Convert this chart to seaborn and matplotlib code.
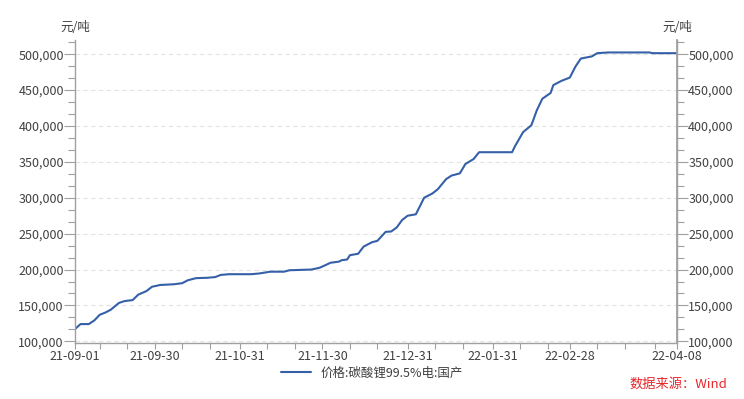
import pandas as pd
import matplotlib.pyplot as plt
import matplotlib.dates as mdates
import matplotlib.ticker as mticker
import seaborn as sns

# price series (元/吨)
dates = ["2021-09-01", "2021-09-03", "2021-09-06", "2021-09-08", "2021-09-10", "2021-09-12",
         "2021-09-14", "2021-09-17", "2021-09-19", "2021-09-22", "2021-09-24", "2021-09-27",
         "2021-09-29", "2021-10-02", "2021-10-07", "2021-10-10", "2021-10-12", "2021-10-15",
         "2021-10-19", "2021-10-22", "2021-10-24", "2021-10-27", "2021-11-04", "2021-11-07",
         "2021-11-11", "2021-11-16", "2021-11-18", "2021-11-26", "2021-11-29", "2021-12-03",
         "2021-12-06", "2021-12-07", "2021-12-09", "2021-12-10", "2021-12-13", "2021-12-15",
         "2021-12-18", "2021-12-20", "2021-12-23", "2021-12-25", "2021-12-27", "2021-12-29",
         "2021-12-31", "2022-01-03", "2022-01-06", "2022-01-09", "2022-01-11", "2022-01-14",
         "2022-01-16", "2022-01-18", "2022-01-19", "2022-01-21", "2022-01-24", "2022-01-26",
         "2022-02-07", "2022-02-08", "2022-02-11", "2022-02-14", "2022-02-16", "2022-02-18",
         "2022-02-21", "2022-02-22", "2022-02-25", "2022-02-28", "2022-03-02", "2022-03-04",
         "2022-03-08", "2022-03-10", "2022-03-14", "2022-03-29", "2022-03-30", "2022-04-08"]
prices = [117000, 124000, 124000, 129000, 137000, 140000,
          144000, 153500, 156000, 157500, 165000, 170000,
          176000, 178500, 179500, 181000, 185000, 188000,
          188500, 189500, 192500, 193500, 193500, 194500,
          197000, 197000, 199000, 200000, 202500, 209500,
          211000, 213000, 214000, 220000, 222000, 232000,
          238000, 240000, 252500, 253000, 258500, 269000,
          275000, 277000, 300000, 306000, 312000, 326000,
          331000, 333000, 334000, 347000, 354000, 363500,
          363500, 371500, 391500, 401000, 422000, 438000,
          446000, 457000, 463000, 467500, 482500, 494000,
          497000, 501500, 502500, 502500, 501500, 501500]

tick_dates = ["2021-09-01", "2021-09-30", "2021-10-31", "2021-11-30", "2021-12-31",
              "2022-01-31", "2022-02-28", "2022-04-08"]
tick_labels = ["21-09-01", "21-09-30", "21-10-31", "21-11-30", "21-12-31",
               "22-01-31", "22-02-28", "22-04-08"]
series_name = "价格:碳酸锂99.5%电:国产"

df = pd.DataFrame({"date": pd.to_datetime(dates), "price": prices})

sns.set_theme(style="white")
plt.rcParams['font.family'] = ['Noto Sans CJK SC', 'DejaVu Sans']

fig = plt.figure(figsize=(7.44, 3.99), dpi=100)
ax = fig.add_axes([0.1008, 0.141, 0.8092, 0.759])

line_color = "#3560a8"
sns.lineplot(data=df, x="date", y="price", ax=ax, color=line_color, linewidth=1.5,
             label=series_name, legend=False)

ymin, ymax = 98000, 520000
ax.set_xlim(pd.Timestamp("2021-09-01"), pd.Timestamp("2022-04-08"))
ax.set_ylim(ymin, ymax)
ax.set_xlabel("")
ax.set_ylabel("")

grey = "#a0a0a0"
txt = "#404040"

# x ticks
ax.xaxis.set_major_locator(mticker.FixedLocator(mdates.date2num(pd.to_datetime(tick_dates))))
ax.xaxis.set_major_formatter(mticker.FixedFormatter(tick_labels))
minor = pd.date_range("2021-09-01", "2022-04-08")
minor = [d for d in minor if d.day in (10, 20)] + [pd.Timestamp("2022-03-31")]
ax.xaxis.set_minor_locator(mticker.FixedLocator(mdates.date2num(pd.to_datetime(minor))))

# y ticks
yt = list(range(100000, 500001, 50000))
ax.yaxis.set_major_locator(mticker.FixedLocator(yt))
ax.yaxis.set_minor_locator(mticker.AutoMinorLocator(3))
ax.yaxis.set_major_formatter(mticker.FuncFormatter(lambda v, p: f"{int(v):,}"))

ax.grid(axis="y", which="major", color="#e3e3e3", linestyle=(0, (4, 3)), linewidth=0.8)
ax.grid(axis="x", visible=False)

for s in ["top"]:
    ax.spines[s].set_visible(False)
for s in ["left", "right", "bottom"]:
    ax.spines[s].set_color(grey)
    ax.spines[s].set_linewidth(1.0)

ax.tick_params(axis="x", which="both", direction="out", length=4, width=0.8, color=grey,
               labelsize=9, labelcolor=txt, pad=1, bottom=True)
ax.tick_params(axis="y", which="major", direction="out", length=8, width=0.8, color=grey,
               labelsize=9, labelcolor=txt, pad=0, left=True)
ax.tick_params(axis="y", which="minor", direction="out", length=5, width=0.8, color=grey, left=True)

# right axis mirrors the left
ax2 = ax.twinx()
ax2.set_ylim(ymin, ymax)
ax2.yaxis.set_major_locator(mticker.FixedLocator(yt))
ax2.yaxis.set_minor_locator(mticker.AutoMinorLocator(3))
ax2.yaxis.set_major_formatter(mticker.FuncFormatter(lambda v, p: f"{int(v):,}"))
ax2.grid(False)
for s in ["top", "left", "bottom"]:
    ax2.spines[s].set_visible(False)
ax2.spines["right"].set_color(grey)
ax2.tick_params(axis="y", which="major", direction="out", length=8, width=0.8, color=grey,
                labelsize=9, labelcolor=txt, pad=0, right=True)
ax2.tick_params(axis="y", which="minor", direction="out", length=5, width=0.8, color=grey, right=True)

fig.text(0.1008, 0.93, "元/吨", ha="center", va="center", fontsize=9, color=txt)
fig.text(0.91, 0.93, "元/吨", ha="center", va="center", fontsize=9, color=txt)

handles, labels = ax.get_legend_handles_labels()
fig.legend(handles, labels, loc="center", bbox_to_anchor=(0.5, 0.065), frameon=False,
           fontsize=9, handlelength=2.4, labelcolor=txt)

fig.text(0.978, 0.038, "数据来源：Wind", ha="right", va="center", fontsize=9.5, color="#e8262b")

fig.savefig("out.png", dpi=100)
